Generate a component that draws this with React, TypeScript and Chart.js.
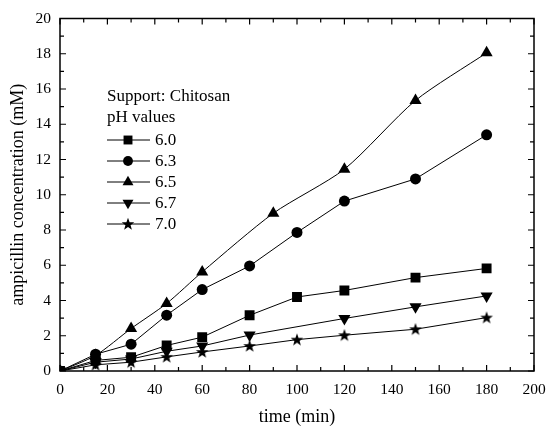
import React, { useEffect, useRef } from "react";
import { Chart, registerables } from "chart.js";
import { drawPoint } from "chart.js/helpers";

Chart.register(...registerables);

const FONT = "'Liberation Serif', 'Times New Roman', serif";

const x60 = [0, 15, 30, 45, 60, 80, 100, 120, 150, 180];
const y60 = [0, 0.6, 0.78, 1.45, 1.92, 3.16, 4.2, 4.57, 5.3, 5.82];
const x63 = [0, 15, 30, 45, 60, 80, 100, 120, 150, 180];
const y63 = [0, 0.95, 1.52, 3.17, 4.62, 5.96, 7.86, 9.64, 10.9, 13.4];
const x65 = [0, 15, 30, 45, 60, 90, 120, 150, 180];
const y65 = [0, 0.88, 2.41, 3.83, 5.62, 8.95, 11.45, 15.35, 18.05];
const x67 = [0, 15, 30, 45, 60, 80, 120, 150, 180];
const y67 = [0, 0.5, 0.68, 1.12, 1.42, 2.04, 2.98, 3.64, 4.26];
const x70 = [0, 15, 30, 45, 60, 80, 100, 120, 150, 180];
const y70 = [0, 0.35, 0.5, 0.8, 1.08, 1.42, 1.78, 2.03, 2.37, 3.03];

const seriesLabels = ["6.0", "6.3", "6.5", "6.7", "7.0"];
const legendHeader = ["Support: Chitosan", "pH values"];
const xTitle = "time (min)";
const yTitle = "ampicillin concentration (mM)";

function makeStar(): HTMLCanvasElement {
  const c = document.createElement("canvas");
  c.width = 14;
  c.height = 14;
  const ctx = c.getContext("2d")!;
  ctx.fillStyle = "#000";
  ctx.beginPath();
  const cx = 7, cy = 7.4, R = 6.6, r = 2.7;
  for (let i = 0; i < 10; i++) {
    const a = -Math.PI / 2 + (i * Math.PI) / 5;
    const rr = i % 2 === 0 ? R : r;
    const px = cx + rr * Math.cos(a);
    const py = cy + rr * Math.sin(a);
    if (i === 0) ctx.moveTo(px, py);
    else ctx.lineTo(px, py);
  }
  ctx.closePath();
  ctx.fill();
  return c;
}

export default function App() {
  const ref = useRef<HTMLCanvasElement>(null);

  useEffect(() => {
    document.body.style.margin = "0";
    const star = makeStar();
    const mk = (xs: number[], ys: number[]) => xs.map((x, i) => ({ x, y: ys[i] }));
    const styles: any[] = [
      { pointStyle: "rect", radius: 7, rotation: 0 },
      { pointStyle: "circle", radius: 5.5, rotation: 0 },
      { pointStyle: "triangle", radius: 7, rotation: 0 },
      { pointStyle: "triangle", radius: 7, rotation: 180 },
      { pointStyle: star, radius: 7, rotation: 0 },
    ];
    const datas = [mk(x60, y60), mk(x63, y63), mk(x65, y65), mk(x67, y67), mk(x70, y70)];
    const tensions = [0, 0, 0.25, 0, 0];

    const frame = {
      id: "frame",
      afterDraw(chart: any) {
        const { ctx, chartArea: a } = chart;
        const xs = chart.scales.x;
        const ys = chart.scales.y;
        ctx.save();
        ctx.strokeStyle = "#000";
        ctx.lineWidth = 1.5;
        ctx.strokeRect(a.left, a.top, a.right - a.left, a.bottom - a.top);
        ctx.lineWidth = 1.2;
        ctx.beginPath();
        for (let v = 0; v <= 200; v += 10) {
          const px = xs.getPixelForValue(v);
          const len = v % 20 === 0 ? 6 : 4;
          ctx.moveTo(px, a.bottom);
          ctx.lineTo(px, a.bottom - len);
          ctx.moveTo(px, a.top);
          ctx.lineTo(px, a.top + len);
        }
        for (let v = 0; v <= 20; v += 1) {
          const py = ys.getPixelForValue(v);
          const len = v % 2 === 0 ? 6 : 4;
          ctx.moveTo(a.left, py);
          ctx.lineTo(a.left + len, py);
          ctx.moveTo(a.right, py);
          ctx.lineTo(a.right - len, py);
        }
        ctx.stroke();

        // legend
        ctx.fillStyle = "#000";
        ctx.font = `17px ${FONT}`;
        ctx.textBaseline = "middle";
        ctx.textAlign = "left";
        const lx = 107;
        ctx.fillText(legendHeader[0], lx, 97);
        ctx.fillText(legendHeader[1], lx, 118);
        seriesLabels.forEach((lab, i) => {
          const y = 140 + i * 21;
          ctx.lineWidth = 1;
          ctx.beginPath();
          ctx.moveTo(lx, y);
          ctx.lineTo(lx + 43, y);
          ctx.stroke();
          const s = styles[i];
          drawPoint(ctx, { pointStyle: s.pointStyle, rotation: s.rotation, radius: s.radius * 0.9, borderWidth: 0 } as any, 128, y);
          ctx.fillText(lab, 155, y + 1);
        });
        ctx.restore();
      },
    };

    const chart = new Chart(ref.current!, {
      type: "line",
      data: {
        datasets: datas.map((d, i) => ({
          label: seriesLabels[i],
          data: d,
          borderColor: "#000",
          backgroundColor: "#000",
          borderWidth: 1,
          pointStyle: styles[i].pointStyle,
          pointRotation: styles[i].rotation,
          pointRadius: styles[i].radius,
          pointBorderWidth: 0,
          pointBackgroundColor: "#000",
          pointBorderColor: "#000",
          tension: tensions[i],
          fill: false,
        })),
      },
      options: {
        responsive: false,
        animation: false,
        layout: { padding: { left: 0, right: 12, top: 18.5, bottom: 0 } },
        plugins: { legend: { display: false }, tooltip: { enabled: false } },
        scales: {
          x: {
            type: "linear",
            min: 0,
            max: 200,
            afterFit: (s: any) => { s.height = 57; s.paddingLeft = 0; s.paddingRight = 0; },
            border: { display: false },
            grid: { display: false, drawTicks: false },
            ticks: { stepSize: 20, color: "#000", font: { family: FONT, size: 15.5 }, padding: 10, maxRotation: 0 },
            title: { display: true, text: xTitle, color: "#000", font: { family: FONT, size: 18 }, padding: { top: 0, bottom: 0 } },
          },
          y: {
            type: "linear",
            min: 0,
            max: 20,
            afterFit: (s: any) => { s.width = 60; s.paddingTop = 0; s.paddingBottom = 0; },
            border: { display: false },
            grid: { display: false, drawTicks: false },
            ticks: { stepSize: 2, color: "#000", font: { family: FONT, size: 15.5 }, padding: 9 },
            title: { display: true, text: yTitle, color: "#000", font: { family: FONT, size: 18 }, padding: { top: 7, bottom: 0 } },
          },
        },
      },
      plugins: [frame],
    });
    return () => chart.destroy();
  }, []);

  return (
    <div style={{ width: 546, height: 428, background: "#fff" }}>
      <canvas ref={ref} width={546} height={428} />
    </div>
  );
}
